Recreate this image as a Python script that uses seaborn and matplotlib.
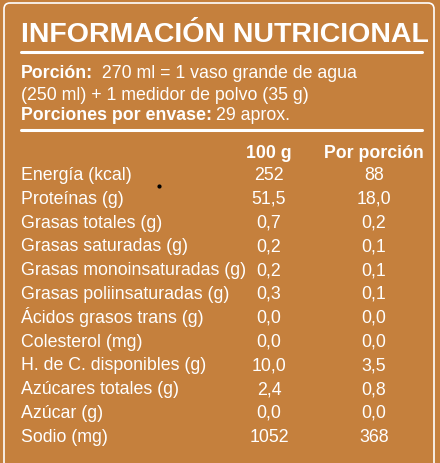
import matplotlib
matplotlib.use("Agg")
import matplotlib.pyplot as plt
import seaborn as sns
from matplotlib.patches import FancyBboxPatch

sns.set_theme(style="white")
plt.rcParams['font.family'] = ['Liberation Sans', 'DejaVu Sans']

title = "INFORMACIÓN NUTRICIONAL"
nutrients = ["Energía (kcal)", "Proteínas (g)", "Grasas totales (g)", "Grasas saturadas (g)",
             "Grasas monoinsaturadas (g)", "Grasas poliinsaturadas (g)", "Ácidos grasos trans (g)",
             "Colesterol (mg)", "H. de C. disponibles (g)", "Azúcares totales (g)", "Azúcar (g)", "Sodio (mg)"]
per100 = ["252", "51,5", "0,7", "0,2", "0,2", "0,3", "0,0", "0,0", "10,0", "2,4", "0,0", "1052"]
perportion = ["88", "18,0", "0,2", "0,1", "0,1", "0,1", "0,0", "0,0", "3,5", "0,8", "0,0", "368"]
col_heads = ["100 g", "Por porción"]

BG = "#C5803D"
W, H = 440, 464
FS = 12.8
fig = plt.figure(figsize=(4.4, 4.64), dpi=100, facecolor=BG)
ax = fig.add_axes([0, 0, 1, 1])
ax.set_xlim(0, W)
ax.set_ylim(H, 0)
ax.axis("off")
ax.set_facecolor(BG)

ax.add_patch(FancyBboxPatch((4, 4), 430, 470, boxstyle="round,pad=0,rounding_size=6",
                            fill=False, ec="white", lw=1.2))

ax.text(21, 42, title, color="white", fontsize=20.5, fontweight="bold", va="baseline", ha="left")
ax.plot([21, 422], [53, 53], color="white", lw=2.2)

def mixed(y, bold, rest):
    t = ax.text(21, y, bold, color="white", fontsize=FS, fontweight="bold", va="baseline", ha="left")
    fig.canvas.draw()
    bb = t.get_window_extent()
    inv = ax.transData.inverted()
    x2 = inv.transform((bb.x1, bb.y0))[0]
    ax.text(x2 + 4, y, rest, color="white", fontsize=FS, va="baseline", ha="left")

mixed(78, "Porción:", " 270 ml = 1 vaso grande de agua")
ax.text(21, 100, "(250 ml) + 1 medidor de polvo (35 g)", color="white", fontsize=FS, va="baseline")
mixed(120, "Porciones por envase:", "29 aprox.")
ax.plot([21, 422], [131, 131], color="white", lw=2.2)

cx = [269, 374]
for x, h in zip(cx, col_heads):
    ax.text(x, 158, h, color="white", fontsize=FS, fontweight="bold", va="baseline", ha="center")

y0, dy = 180, 23.8
for i, (n, a, b) in enumerate(zip(nutrients, per100, perportion)):
    y = y0 + i * dy
    ax.text(21, y, n, color="white", fontsize=FS, va="baseline", ha="left")
    ax.text(cx[0], y, a, color="white", fontsize=FS, va="baseline", ha="center")
    ax.text(cx[1], y, b, color="white", fontsize=FS, va="baseline", ha="center")

ax.plot([159], [187], marker="o", ms=2, color="black")

fig.savefig("out.png", dpi=100, facecolor=BG)
